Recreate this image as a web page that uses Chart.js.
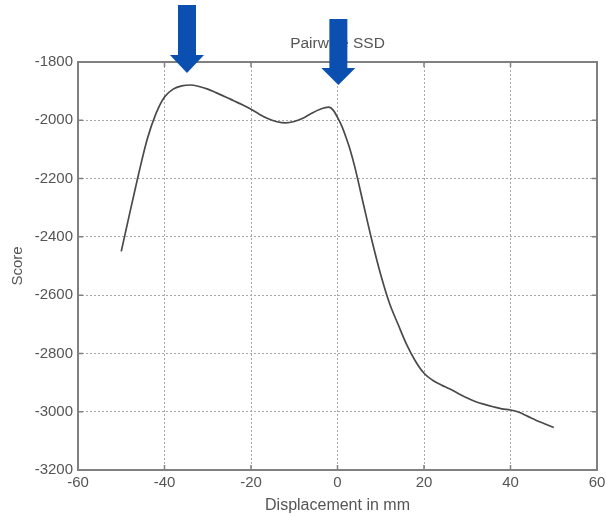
<!DOCTYPE html>
<html>
<head>
<meta charset="utf-8">
<script src="https://cdn.jsdelivr.net/npm/chart.js@4"></script>
<style>
  html, body { margin: 0; padding: 0; background: #fff; }
  #wrap { width: 605px; height: 517px; }
</style>
</head>
<body>
<div id="wrap"><canvas id="ssdChart"></canvas></div>
<script>
// displacement (mm) and pairwise SSD score
const dispX = [-50, -48, -46, -44, -42, -40, -38, -36, -34, -32, -30, -28, -26, -24, -22, -20, -18, -16, -14, -12, -10, -8, -6, -4, -2, -1, 0, 1, 2, 3, 4, 6, 8, 10, 12, 14, 16, 18, 20, 22, 24, 26, 28, 30, 32, 34, 36, 38, 40, 42, 44, 46, 48, 50];
const score = [-2450, -2316, -2185, -2065, -1978, -1920, -1893, -1882, -1879, -1884, -1893, -1906, -1919, -1933, -1947, -1962, -1980, -1995, -2005, -2009, -2004, -1993, -1976, -1962, -1955, -1965, -1990, -2020, -2060, -2105, -2160, -2288, -2415, -2530, -2627, -2700, -2770, -2826, -2868, -2892, -2908, -2922, -2938, -2953, -2966, -2975, -2983, -2990, -2994, -3002, -3016, -3030, -3042, -3054];
const xTicks = [-60, -40, -20, 0, 20, 40, 60];
const yTicks = [-3200, -3000, -2800, -2600, -2400, -2200, -2000, -1800];
// x positions of the two highlighted peaks
const arrowX = [-34.8, 0.2];

const FONT = "'Liberation Sans', Arial, sans-serif";
const TEXT = '#555';

// frame, inward ticks, title and the blue arrows
const decor = {
  id: 'decor',
  afterDraw(chart) {
    const ctx = chart.ctx;
    const a = chart.chartArea;
    const xs = chart.scales.x, ys = chart.scales.y;
    ctx.save();
    ctx.strokeStyle = '#808080';
    ctx.lineWidth = 2;
    ctx.strokeRect(a.left, a.top, a.right - a.left, a.bottom - a.top);
    ctx.lineWidth = 1.5;
    ctx.beginPath();
    xTicks.forEach(v => {
      const px = xs.getPixelForValue(v);
      ctx.moveTo(px, a.bottom); ctx.lineTo(px, a.bottom - 5);
      ctx.moveTo(px, a.top); ctx.lineTo(px, a.top + 5);
    });
    yTicks.forEach(v => {
      const py = ys.getPixelForValue(v);
      ctx.moveTo(a.left, py); ctx.lineTo(a.left + 5, py);
      ctx.moveTo(a.right, py); ctx.lineTo(a.right - 5, py);
    });
    ctx.stroke();

    ctx.fillStyle = TEXT;
    ctx.font = '15.5px ' + FONT;
    ctx.textAlign = 'center';
    ctx.textBaseline = 'middle';
    ctx.fillText('Pairwise SSD', (a.left + a.right) / 2, 44);

    // arrows: [shaft top, head base, tip]
    const shapes = [[5, 55, 73], [19, 68, 85]];
    ctx.fillStyle = '#0b50b0';
    arrowX.forEach((v, i) => {
      const cx = xs.getPixelForValue(v);
      const [t, b, tip] = shapes[i];
      ctx.beginPath();
      ctx.moveTo(cx - 9, t);
      ctx.lineTo(cx + 9, t);
      ctx.lineTo(cx + 9, b);
      ctx.lineTo(cx + 17, b);
      ctx.lineTo(cx, tip);
      ctx.lineTo(cx - 17, b);
      ctx.lineTo(cx - 9, b);
      ctx.closePath();
      ctx.fill();
    });
    ctx.restore();
  }
};

new Chart(document.getElementById('ssdChart'), {
  type: 'line',
  data: {
    datasets: [{
      label: 'Pairwise SSD',
      data: dispX.map((x, i) => ({ x: x, y: score[i] })),
      borderColor: '#4a4a4a',
      borderWidth: 1.7,
      pointRadius: 0,
      fill: false,
      cubicInterpolationMode: 'monotone'
    }]
  },
  options: {
    responsive: true,
    maintainAspectRatio: false,
    animation: false,
    layout: { padding: { top: 62, right: 8, left: 0, bottom: 0 } },
    plugins: { legend: { display: false }, tooltip: { enabled: false } },
    scales: {
      x: {
        type: 'linear',
        min: -60, max: 60,
        afterBuildTicks: s => { s.ticks = xTicks.map(v => ({ value: v })); },
        afterFit: s => { s.height = 47; s.paddingLeft = 0; s.paddingRight = 0; },
        grid: { color: '#a8a8a8', drawTicks: false, tickLength: 0 },
        border: { display: false, dash: [2, 2] },
        ticks: { color: TEXT, font: { family: FONT, size: 15 }, padding: 4, maxRotation: 0, callback: v => String(v) },
        title: { display: true, text: 'Displacement in mm', color: TEXT, font: { family: FONT, size: 16 }, padding: { top: 2, bottom: 2 } }
      },
      y: {
        min: -3200, max: -1800,
        afterBuildTicks: s => { s.ticks = yTicks.map(v => ({ value: v })); },
        afterFit: s => { s.width = 78; s.paddingTop = 0; s.paddingBottom = 0; },
        grid: { color: '#a8a8a8', drawTicks: false, tickLength: 0 },
        border: { display: false, dash: [2, 2] },
        ticks: { color: TEXT, font: { family: FONT, size: 15 }, padding: 5, callback: v => String(v) },
        title: { display: true, text: 'Score', color: TEXT, font: { family: FONT, size: 15 }, padding: { top: 9, bottom: 4 } }
      }
    }
  },
  plugins: [decor]
});
</script>
</body>
</html>
